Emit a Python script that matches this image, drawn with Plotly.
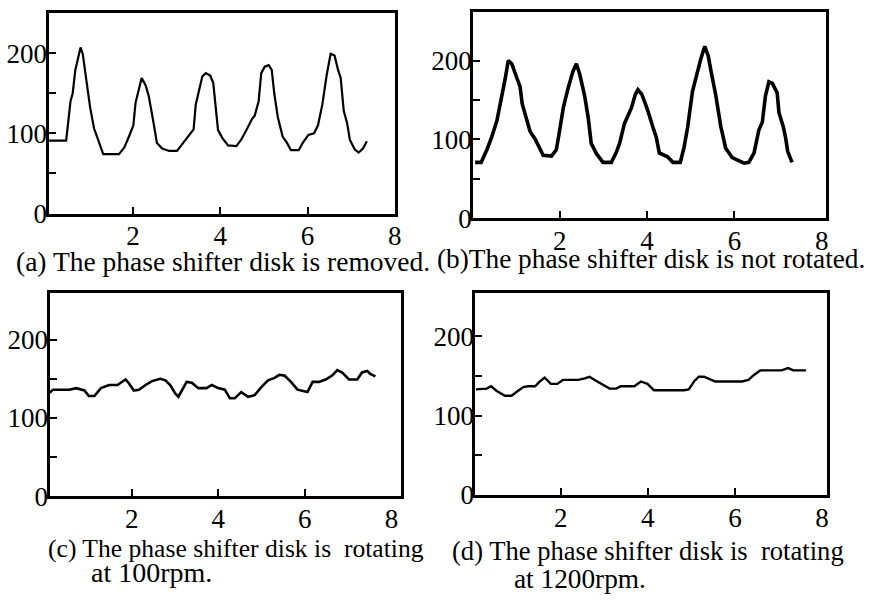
import plotly.graph_objects as go

# ---------------- data ----------------
a_x = [0.08, 0.47, 0.57, 0.62, 0.68, 0.73, 0.80, 0.85, 0.94, 1.02, 1.11, 1.23, 1.32, 1.68, 1.80, 1.91,
       2.01, 2.06, 2.14, 2.20, 2.29, 2.36, 2.45, 2.55, 2.67, 2.83, 3.01, 3.12, 3.27, 3.39, 3.44, 3.52,
       3.59, 3.67, 3.77, 3.84, 3.89, 3.95, 4.05, 4.18, 4.37, 4.48, 4.60, 4.73, 4.79, 4.88, 4.94, 5.02,
       5.11, 5.18, 5.24, 5.32, 5.43, 5.53, 5.62, 5.80, 5.89, 6.02, 6.15, 6.24, 6.34, 6.44, 6.53, 6.62,
       6.70, 6.76, 6.83, 6.91, 6.97, 7.08, 7.17, 7.27, 7.36]
a_y = [91, 91, 140, 150, 179, 191, 207, 199, 165, 132, 106, 88, 74, 74, 82, 96,
       110, 138, 157, 169, 160, 147, 120, 88, 81, 78, 78, 86, 96, 105, 136, 157,
       171, 175, 172, 163, 136, 104, 94, 85, 84, 92, 104, 118, 122, 140, 175, 183,
       185, 179, 149, 120, 96, 88, 79, 79, 88, 98, 100, 110, 136, 173, 199, 197,
       179, 169, 128, 112, 92, 80, 76, 81, 90]

b_x = [0.06, 0.20, 0.33, 0.44, 0.56, 0.67, 0.75, 0.82, 0.90, 0.99, 1.09, 1.14, 1.24, 1.32, 1.43, 1.51,
       1.62, 1.81, 1.92, 1.98, 2.08, 2.19, 2.30, 2.38, 2.46, 2.57, 2.65, 2.72, 2.84, 2.99, 3.18, 3.29,
       3.37, 3.48, 3.64, 3.73, 3.79, 3.88, 4.02, 4.13, 4.21, 4.28, 4.47, 4.59, 4.76, 4.85, 4.93, 5.04,
       5.16, 5.23, 5.32, 5.40, 5.48, 5.57, 5.69, 5.80, 5.95, 6.11, 6.22, 6.33, 6.45, 6.56, 6.64, 6.71,
       6.79, 6.87, 6.98, 7.02, 7.12, 7.17, 7.22, 7.32]
b_y = [71, 71, 87, 103, 124, 153, 177, 200, 196, 182, 167, 145, 124, 110, 101, 91,
       80, 79, 87, 106, 140, 165, 186, 196, 182, 155, 128, 95, 82, 71, 71, 83,
       95, 120, 140, 157, 163, 157, 136, 116, 103, 83, 78, 71, 71, 91, 116, 161,
       188, 202, 218, 206, 182, 157, 116, 89, 77, 73, 70, 71, 83, 112, 122, 155,
       173, 171, 159, 134, 116, 103, 85, 71]

c_x = [0.11, 0.18, 0.56, 0.72, 0.91, 1.01, 1.14, 1.29, 1.48, 1.67, 1.86, 1.94, 2.05, 2.17, 2.32, 2.47,
       2.66, 2.78, 2.89, 3.01, 3.08, 3.16, 3.27, 3.39, 3.54, 3.73, 3.85, 4.00, 4.15, 4.27, 4.38, 4.53,
       4.69, 4.84, 4.99, 5.15, 5.30, 5.41, 5.53, 5.68, 5.83, 6.06, 6.18, 6.33, 6.48, 6.63, 6.75, 6.86,
       7.02, 7.21, 7.32, 7.44, 7.51, 7.63]
c_y = [132, 136, 136, 138, 135, 128, 128, 138, 142, 142, 149, 144, 135, 136, 142, 147,
       150, 148, 142, 131, 127, 135, 146, 145, 138, 138, 142, 138, 136, 125, 125, 133,
       127, 129, 139, 148, 151, 155, 154, 146, 136, 133, 146, 146, 149, 154, 161, 158,
       149, 149, 158, 160, 156, 153]

d_x = [0.05, 0.30, 0.40, 0.53, 0.72, 0.87, 0.99, 1.14, 1.25, 1.41, 1.52, 1.63, 1.77, 1.92, 2.05, 2.40,
       2.55, 2.66, 2.78, 2.93, 3.12, 3.27, 3.38, 3.69, 3.84, 3.99, 4.14, 4.83, 4.94, 5.06, 5.17, 5.29,
       5.44, 5.55, 6.16, 6.31, 6.43, 6.58, 7.07, 7.22, 7.34, 7.63]
d_y = [133, 134, 137, 131, 125, 125, 130, 136, 137, 137, 143, 148, 140, 140, 145, 145,
       147, 149, 145, 140, 134, 134, 137, 137, 143, 140, 132, 132, 133, 143, 149, 149,
       145, 143, 143, 145, 151, 157, 157, 160, 157, 157]

x_tick_marks = [2, 4, 6]
x_tick_labels = [2, 4, 6, 8]
y_tick_marks = [50, 100, 150, 200]
y_tick_labels = [0, 100, 200]

captions = [
    "(a) The phase shifter disk is removed.",
    "(b)The phase shifter disk is not rotated.",
    "(c) The phase shifter disk is \u00a0rotating",
    "at 100rpm.",
    "(d) The phase shifter disk is \u00a0rotating",
    "at 1200rpm.",
]

# ---------------- layout helpers ----------------
W, H = 872, 601
FONT = "Liberation Serif, Times New Roman, serif"
TICK_SIZE = 27

def px_x(p):
    return p / W

def px_y(p):
    return 1 - p / H

panels = [
    # (x series, y series, xdom px, ydom px (top,bottom), xrange, yrange, line width)
    (a_x, a_y, (49, 398), (13.3, 219), (0.068, 8.0), (0, 250), 2.2),
    (b_x, b_y, (477, 833), (12.7, 224), (0.016, 8.105), (0, 261), 3.6),
    (c_x, c_y, (50, 404), (300, 509), (0.105, 8.215), (0, 260), 2.6),
    (d_x, d_y, (479.3, 833.3), (300.7, 507.3), (0.041, 8.105), (0, 254.6), 2.4),
]

fig = go.Figure()
layout = dict(
    width=W, height=H,
    margin=dict(l=0, r=0, t=0, b=0),
    paper_bgcolor="white", plot_bgcolor="white",
    showlegend=False,
    font=dict(family=FONT, color="black", size=TICK_SIZE),
)
tfont = dict(family=FONT, size=TICK_SIZE, color="black")

for i, (xs, ys, xd, yd, xr, yr, lw) in enumerate(panels):
    n = i + 1
    xa = f"x{n}" if n > 1 else "x"
    ya = f"y{n}" if n > 1 else "y"
    xkey = f"xaxis{n}" if n > 1 else "xaxis"
    ykey = f"yaxis{n}" if n > 1 else "yaxis"
    ov = i + 5  # label-only axes
    fig.add_trace(go.Scatter(x=xs, y=ys, mode="lines", xaxis=xa, yaxis=ya,
                             line=dict(color="black", width=lw), hoverinfo="skip"))
    xdom = [px_x(xd[0]), px_x(xd[1])]
    ydom = [px_y(yd[1]), px_y(yd[0])]
    # frame + tick marks
    layout[xkey] = dict(domain=xdom, range=list(xr), anchor=ya,
                        showline=True, mirror=True, linecolor="black", linewidth=3,
                        showgrid=False, zeroline=False,
                        tickmode="array", tickvals=x_tick_marks, showticklabels=False,
                        ticks="inside", ticklen=7, tickwidth=2, tickcolor="black")
    layout[ykey] = dict(domain=ydom, range=list(yr), anchor=xa,
                        showline=True, mirror=True, linecolor="black", linewidth=3,
                        showgrid=False, zeroline=False,
                        tickmode="array", tickvals=y_tick_marks, showticklabels=False,
                        ticks="inside", ticklen=7, tickwidth=2, tickcolor="black")
    # label-only axes, placed at the reference's label distance from the frame
    layout[f"xaxis{ov}"] = dict(domain=xdom, range=list(xr), overlaying=xa,
                                anchor="free", position=px_y(yd[1] + 4), side="bottom",
                                showline=False, showgrid=False, zeroline=False, ticks="",
                                tickmode="array", tickvals=x_tick_labels, tickfont=tfont)
    layout[f"yaxis{ov}"] = dict(domain=ydom, range=list(yr), overlaying=ya,
                                anchor="free", position=px_x(xd[0] - 1.5), side="left",
                                showline=False, showgrid=False, zeroline=False, ticks="",
                                tickmode="array", tickvals=y_tick_labels, tickfont=tfont)
    fig.add_trace(go.Scatter(x=[xr[0]], y=[None], mode="lines",
                             xaxis=f"x{ov}", yaxis=f"y{ov}",
                             hoverinfo="skip", showlegend=False))

cap_pos = [
    (14, 268, 27.5), (438.5, 266, 27.3), (46, 563, 25.6), (90, 587, 28),
    (453.5, 565, 26.6), (516.5, 594, 27.3),
]
anns = []
for txt, (lx, cy, fs) in zip(captions, cap_pos):
    anns.append(dict(text=txt, x=px_x(lx), y=px_y(cy), xref="paper", yref="paper",
                     xanchor="left", yanchor="middle", showarrow=False,
                     font=dict(family=FONT, size=fs, color="black")))
layout["annotations"] = anns

fig.update_layout(**layout)
fig.write_html("out.html")
